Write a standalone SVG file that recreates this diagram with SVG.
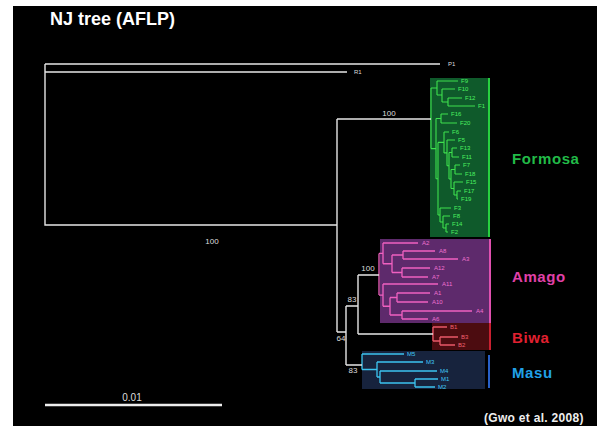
<svg xmlns="http://www.w3.org/2000/svg" width="597" height="426" viewBox="0 0 597 426">
<style>
.w{fill:none;stroke:#e6e6e6;stroke-width:1.4}
.g{fill:none;stroke:#3ee04e;stroke-width:1.1}
.p{fill:none;stroke:#f060c0;stroke-width:1.3}
.r{fill:none;stroke:#e85868;stroke-width:1.3}
.b{fill:none;stroke:#3cc4f0;stroke-width:1.3}
.t{font-family:"Liberation Sans",Arial,sans-serif}
.lf{font-family:"Liberation Sans",Arial,sans-serif;font-size:6px}
.bs{font-family:"Liberation Sans",Arial,sans-serif;font-size:8px;fill:#dddddd;text-anchor:middle}
.grp{font-family:"Liberation Sans",Arial,sans-serif;font-size:15px;font-weight:bold;letter-spacing:0.6px}
</style>
<rect x="0" y="0" width="597" height="426" fill="#ffffff"/>
<rect x="13" y="6" width="584" height="420" fill="#000000"/>
<text class="t" x="50" y="25" font-size="18" font-weight="bold" fill="#ffffff">NJ tree (AFLP)</text>

<g id="formosa">
<rect x="430" y="78" width="60" height="159" fill="#0f5a2b"/>
<line x1="489" y1="78" x2="489" y2="237" stroke="#28d040" stroke-width="2"/>
<path class="g" d="M431,88V148.6M431,88H437M431,148.6H436M437,81V95M437,81H458M437,95H442M442,89V102M442,89H455M442,102H448M448,98V106M448,98H462M448,106H475M436,118.5V178.7M436,118.5H441M436,178.7H438M441,114V123M441,114H448M441,123H457M438,142.4V215M438,142.4H444M438,215H440M444,132V152.9M444,132H449M444,152.9H447M447,140V165.75M447,140H455M447,165.75H449M449,152.5V179M449,152.5H452M449,179H451M452,148V157M452,148H457M452,157H459M451,169.5V188.5M451,169.5H455M451,188.5H454M455,165V174M455,165H460M455,174H462M454,182V195M454,182H463M454,195H457M457,191V199M457,191H461M457,199H458M440,208V222M440,208H451M440,222H443M443,216V228M443,216H450M443,228H446M446,224V232M446,224H449M446,232H448"/>
<g class="lf" fill="#4cf060">
<text x="461" y="83">F9</text><text x="458" y="91">F10</text><text x="465" y="100">F12</text><text x="478" y="108">F1</text>
<text x="451" y="116">F16</text><text x="460" y="125">F20</text><text x="452" y="134">F6</text><text x="458" y="142">F5</text>
<text x="460" y="150">F13</text><text x="462" y="159">F11</text><text x="463" y="167">F7</text><text x="465" y="176">F18</text>
<text x="466" y="184">F15</text><text x="464" y="193">F17</text><text x="461" y="201">F19</text><text x="454" y="210">F3</text>
<text x="453" y="218">F8</text><text x="452" y="226">F14</text><text x="451" y="234">F2</text>
</g>
<text class="grp" x="512" y="164" fill="#22bb48">Formosa</text>
</g>

<g id="amago">
<rect x="380" y="239" width="110" height="84" fill="#5e2a6c"/>
<line x1="490" y1="239" x2="490" y2="323" stroke="#e050b0" stroke-width="2"/>
<path class="p" d="M379,253.4V295.1M379,253.4H383M379,295.1H383M383,243V263.75M383,243H418M383,263.75H392M392,255V272.5M392,255H403M392,272.5H402M403,251V259M403,251H435M403,259H458M402,268V277M402,268H430M402,277H428M383,284V306.25M383,284H438M383,306.25H390M390,297.5V315M390,297.5H397M390,315H402M397,293V302M397,293H430M397,302H428M402,311V319M402,311H472M402,319H428"/>
<g class="lf" fill="#f070d0">
<text x="422" y="245">A2</text><text x="439" y="253">A8</text><text x="462" y="261">A3</text><text x="434" y="270">A12</text>
<text x="432" y="279">A7</text><text x="442" y="286">A11</text><text x="434" y="295">A1</text><text x="432" y="304">A10</text>
<text x="476" y="313">A4</text><text x="432" y="321">A6</text>
</g>
<text class="grp" x="512" y="282" fill="#e040a8">Amago</text>
</g>

<g id="biwa">
<rect x="432" y="323" width="58" height="27" fill="#4c0c10"/>
<line x1="490" y1="323" x2="490" y2="350" stroke="#c82030" stroke-width="2"/>
<path class="r" d="M433,327V341M433,327H447M433,341H440M440,337V345M440,337H458M440,345H455"/>
<g class="lf" fill="#f06070">
<text x="450" y="329">B1</text><text x="461" y="339">B3</text><text x="458" y="347">B2</text>
</g>
<text class="grp" x="512" y="343" fill="#e02030">Biwa</text>
</g>

<g id="masu">
<rect x="362" y="351" width="123" height="38" fill="#17233d"/>
<line x1="489" y1="355" x2="489" y2="388" stroke="#2860c8" stroke-width="2"/>
<path class="b" d="M362,354V369.5M362,354H404M362,369.5H377M377,362V377M377,362H423M377,377H380M380,371V383M380,371H437M380,383H415M415,379V387M415,379H438M415,387H435"/>
<g class="lf" fill="#40c8f8">
<text x="407" y="356">M5</text><text x="426" y="364">M3</text><text x="440" y="373">M4</text><text x="441" y="381">M1</text><text x="438" y="389">M2</text>
</g>
<text class="grp" x="512" y="378" fill="#20a0e8">Masu</text>
</g>

<g id="outgroup">
<text class="lf" x="448" y="66" fill="#dddddd">P1</text>
<text class="lf" x="354" y="74" fill="#dddddd">R1</text>
</g>

<g id="connectors">
<path class="w" d="M45,64H440M45,72H347M45,64V225H337M337,119V332M337,119H431M337,332H346M346,306V365M346,306H358M346,365H362M358,275V334M358,275H379M358,334H433"/>
</g>

<g id="support">
<text class="bs" x="389" y="116">100</text>
<text class="bs" x="212" y="244">100</text>
<text class="bs" x="368" y="271">100</text>
<text class="bs" x="352" y="302">83</text>
<text class="bs" x="341" y="341">64</text>
<text class="bs" x="353" y="373">83</text>
</g>

<g id="scale">
<line x1="45" y1="405" x2="222" y2="405" stroke="#eeeeee" stroke-width="2.5"/>
<text class="t" x="132" y="401" font-size="10" fill="#dddddd" text-anchor="middle">0.01</text>
</g>
<text class="t" x="484" y="422" font-size="12" font-weight="bold" fill="#eeeeee" letter-spacing="0.3">(Gwo et al. 2008)</text>
</svg>
